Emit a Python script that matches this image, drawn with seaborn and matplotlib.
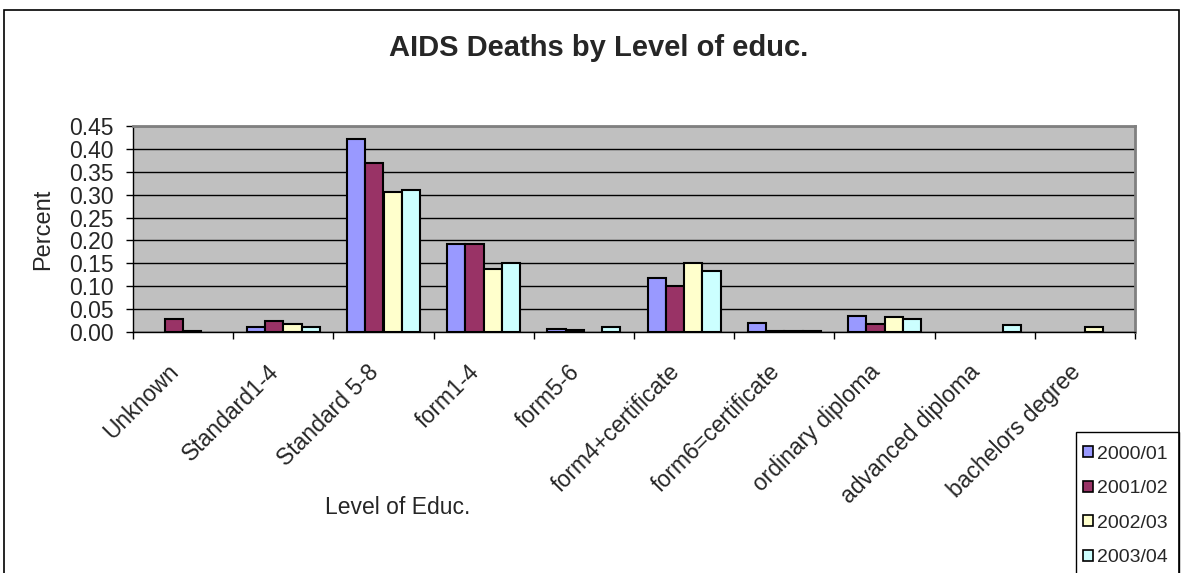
import matplotlib
matplotlib.use("Agg")
import matplotlib.pyplot as plt
import matplotlib.ticker as mticker
from matplotlib.patches import Rectangle
import seaborn as sns
import pandas as pd
import numpy as np

categories = ["Unknown", "Standard1-4", "Standard 5-8", "form1-4", "form5-6",
              "form4+certificate", "form6=certificate", "ordinary diploma",
              "advanced diploma", "bachelors degree"]
years = ["2000/01", "2001/02", "2002/03", "2003/04"]
v2000 = [0.000, 0.012, 0.421, 0.192, 0.007, 0.118, 0.020, 0.036, 0.000, 0.000]
v2001 = [0.028, 0.023, 0.369, 0.192, 0.004, 0.101, 0.003, 0.017, 0.000, 0.000]
v2002 = [0.003, 0.017, 0.306, 0.138, 0.000, 0.151, 0.003, 0.032, 0.000, 0.012]
v2003 = [0.000, 0.012, 0.311, 0.151, 0.012, 0.134, 0.003, 0.028, 0.016, 0.000]
colors = ["#9999FF", "#993366", "#FFFFCC", "#CCFFFF"]

rows = []
for yr, vals in zip(years, [v2000, v2001, v2002, v2003]):
    for c, v in zip(categories, vals):
        rows.append({"Level": c, "Year": yr, "Percent": v})
df = pd.DataFrame(rows)

sns.set_theme(style="white")
plt.rcParams["font.family"] = ["Liberation Sans", "DejaVu Sans"]

W, H = 1183, 573
fig = plt.figure(figsize=(W / 100, H / 100), dpi=100)
ax = fig.add_axes([133 / W, 1 - 332 / H, (1135 - 133) / W, (332 - 126) / H])
ax.set_facecolor("#C0C0C0")

sns.barplot(data=df, x="Level", y="Percent", hue="Year", order=categories,
            hue_order=years, palette=colors, edgecolor="black", linewidth=1.5,
            width=0.73, gap=0, ax=ax, zorder=3, legend=True, saturation=1)

# zero-valued bars are not drawn in the original
for cont in ax.containers:
    for p in cont:
        if p.get_height() == 0:
            p.set_visible(False)

ax.set_ylim(0, 0.45)
ax.set_xlim(-0.5, len(categories) - 0.5)
ax.yaxis.set_major_locator(mticker.MultipleLocator(0.05))
ax.yaxis.set_major_formatter(mticker.FormatStrFormatter("%.2f"))
ax.grid(axis="y", color="black", linewidth=1.0, zorder=1)
ax.set_axisbelow(True)

ax.set_xlabel("")
ax.set_ylabel("")
ax.set_xticks(range(len(categories)))
ax.set_xticklabels(categories, rotation=45, ha="right", va="bottom",
                   rotation_mode="anchor", fontsize=16.5)
ax.set_xticks(np.arange(-0.5, len(categories), 1.0), minor=True)
ax.tick_params(axis="x", which="major", length=0, pad=32)
ax.tick_params(axis="x", which="minor", length=5, width=1, color="black",
               direction="out", bottom=True)
ax.tick_params(axis="y", length=5, width=1, color="black", direction="out",
               left=True, pad=9, labelsize=16.5)

for s in ["top", "right"]:
    ax.spines[s].set_color("#808080")
    ax.spines[s].set_linewidth(2)
for s in ["left", "bottom"]:
    ax.spines[s].set_color("black")
    ax.spines[s].set_linewidth(1)

# legend (box drawn separately, as it runs off the bottom of the chart)
handles, labels = ax.get_legend_handles_labels()
ax.legend_.remove()
leg = fig.legend(handles, labels, loc="upper left",
                 bbox_to_anchor=(1076 / W, 1 - 439 / H), fontsize=14,
                 frameon=False, handlelength=0.5, handleheight=0.5,
                 handletextpad=0.25, labelspacing=0.9, borderpad=0.35,
                 borderaxespad=0)
for h in leg.legend_handles:
    h.set_visible(True)
    h.set_edgecolor("black")
    h.set_linewidth(1.2)
fig.patches.append(Rectangle((1076 / W, -0.05), (1179 - 1076) / W,
                             1 - 432 / H + 0.05, transform=fig.transFigure,
                             fill=False, edgecolor="black", linewidth=1))

fig.text(599 / W, 1 - 48 / H, "AIDS Deaths by Level of educ.", ha="center",
         va="center", fontsize=21, fontweight="bold")
fig.text(43 / W, 1 - 229 / H, "Percent", ha="center", va="center",
         rotation=90, fontsize=17)
fig.text(398 / W, 1 - 508 / H, "Level of Educ.", ha="center", va="center",
         fontsize=16.5)

# outer chart border
fig.patches.append(Rectangle((4 / W, -0.05), (1179 - 4) / W, 1 - 10 / H + 0.05,
                             transform=fig.transFigure, fill=False,
                             edgecolor="black", linewidth=1.2))

fig.savefig("out.png", dpi=100)
